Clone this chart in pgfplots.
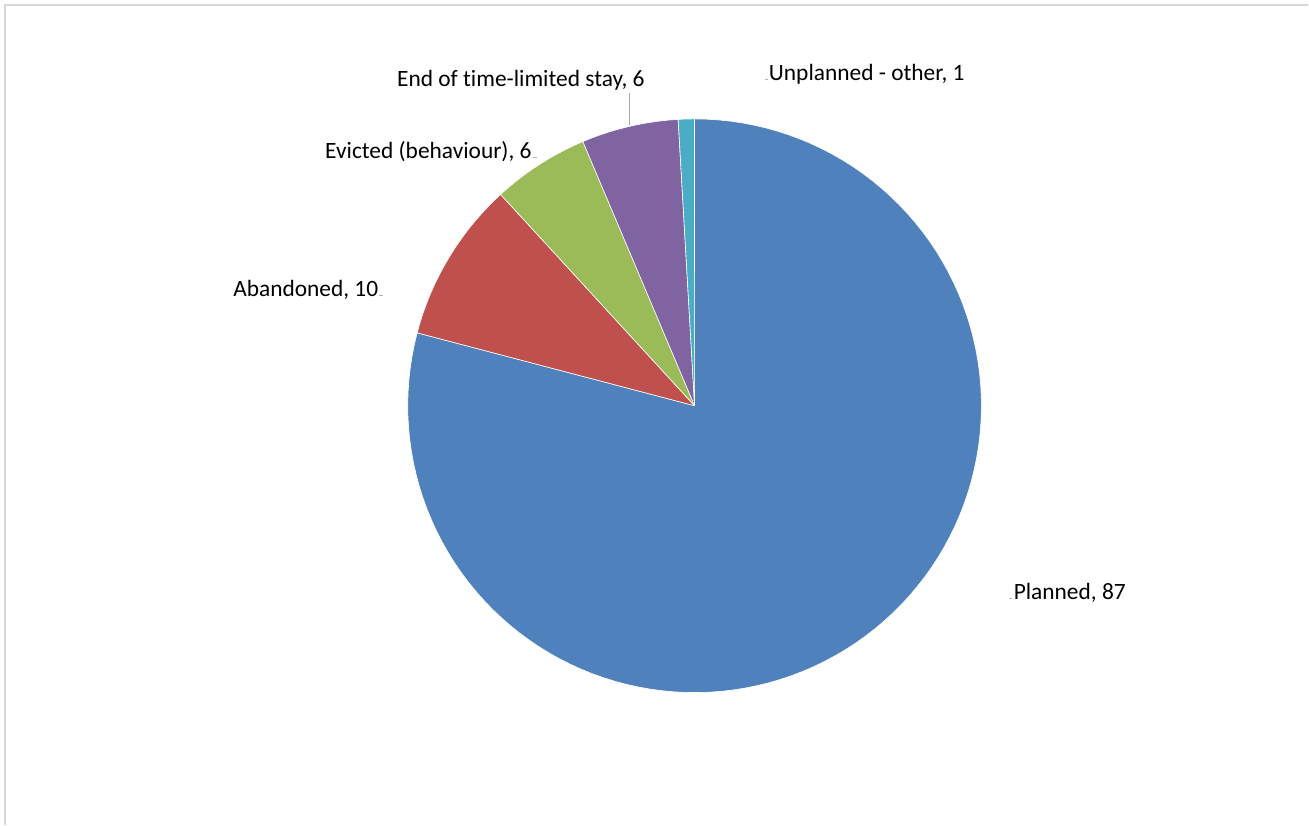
\documentclass[border=0pt]{standalone}
\usepackage{pgfplots}
\pgfplotsset{compat=1.18}
\usepackage{fontspec}
\setmainfont{Carlito}[Ligatures={NoCommon}]
\definecolor{cPlan}{HTML}{4F81BD}
\definecolor{cAban}{HTML}{C0504D}
\definecolor{cEvic}{HTML}{9BBB59}
\definecolor{cEnd}{HTML}{8064A2}
\definecolor{cUnpl}{HTML}{4BACC6}
\definecolor{frame}{HTML}{D9D9D9}
\tikzset{lbl/.style={font=\fontsize{11.7bp}{13.5bp}\selectfont, anchor=west, inner sep=0pt, text=black}}
% data
\def\vA{87}  % Planned
\def\vB{10}  % Abandoned
\def\vC{6}   % Evicted (behaviour)
\def\vD{6}   % End of time-limited stay
\def\vE{1}   % Unplanned - other
\pgfmathsetmacro\tot{\vA+\vB+\vC+\vD+\vE}
\pgfmathsetmacro\aZ{90}
\pgfmathsetmacro\aA{\aZ-360*(\vA/\tot)}
\pgfmathsetmacro\aB{\aA-360*(\vB/\tot)}
\pgfmathsetmacro\aC{\aB-360*(\vC/\tot)}
\pgfmathsetmacro\aD{\aC-360*(\vD/\tot)}
\pgfmathsetmacro\aE{\aD-360*(\vE/\tot)}
\def\cx{695}\def\cy{419}\def\rr{287}
\begin{document}
\begin{tikzpicture}
\begin{axis}[name=ax,
  scale only axis, width=654.5bp, height=412.5bp,
  xmin=0, xmax=1309, ymin=0, ymax=825,
  hide axis, clip=false,
  every axis plot/.append style={draw=white, line width=0.3pt, samples=120, line join=round}]
\draw[frame, line width=0.8pt] (axis cs:5,0) -- (axis cs:5,820) -- (axis cs:1309,820);
\addplot[fill=cPlan, domain=\aA:\aZ] ({\cx+\rr*cos(x)},{\cy+\rr*sin(x)}) -- (axis cs:\cx,\cy) -- cycle;
\addplot[fill=cAban, domain=\aB:\aA] ({\cx+\rr*cos(x)},{\cy+\rr*sin(x)}) -- (axis cs:\cx,\cy) -- cycle;
\addplot[fill=cEvic, domain=\aC:\aB] ({\cx+\rr*cos(x)},{\cy+\rr*sin(x)}) -- (axis cs:\cx,\cy) -- cycle;
\addplot[fill=cEnd, domain=\aD:\aC] ({\cx+\rr*cos(x)},{\cy+\rr*sin(x)}) -- (axis cs:\cx,\cy) -- cycle;
\addplot[fill=cUnpl, domain=\aE:\aD] ({\cx+\rr*cos(x)},{\cy+\rr*sin(x)}) -- (axis cs:\cx,\cy) -- cycle;
\draw[gray!70, line width=0.4pt] (axis cs:630,732) -- (axis cs:630,700);
\draw[gray!60, line width=0.3pt] (axis cs:1010,226) -- (axis cs:1013,226);
\draw[gray!60, line width=0.3pt] (axis cs:379,530) -- (axis cs:383,530);
\draw[gray!60, line width=0.3pt] (axis cs:533,668) -- (axis cs:537,668);
\draw[gray!60, line width=0.3pt] (axis cs:765,746) -- (axis cs:768,746);
\node[lbl] at (axis cs:1014,232) {Planned, 87};
\node[lbl] at (axis cs:233,535) {Abandoned, 10};
\node[lbl] at (axis cs:325,673) {Evicted (behaviour), 6};
\node[lbl] at (axis cs:397,745) {End of time-limited stay, 6};
\node[lbl] at (axis cs:769,751) {Unplanned - other, 1};
\end{axis}
\useasboundingbox (ax.south west) rectangle (ax.north east);
\end{tikzpicture}
\end{document}
